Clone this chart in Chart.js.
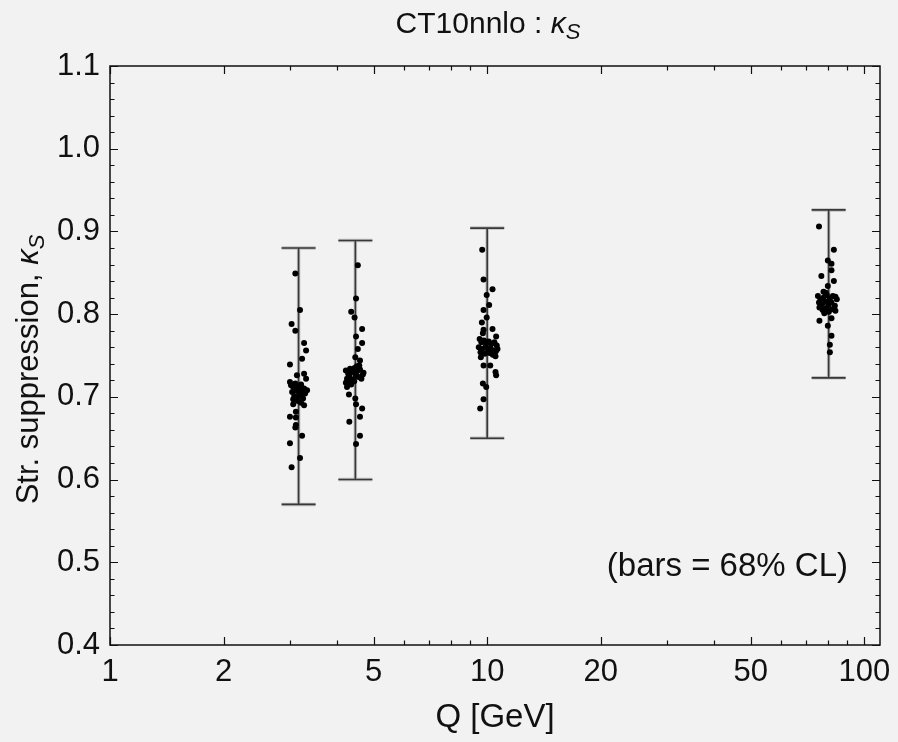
<!DOCTYPE html>
<html><head><meta charset="utf-8">
<script src="https://cdn.jsdelivr.net/npm/chart.js@4/dist/chart.umd.min.js"></script>
<style>html,body{margin:0;padding:0;background:#f2f2f2;}#wrap{width:898px;height:742px;}</style>
</head><body><div id="wrap"><canvas id="c" width="898" height="742"></canvas></div>
<script>
// ---- data ----
const xMajorTicks = [1, 2, 5, 10, 20, 50, 100];
const xMinorTicks = [3, 4, 6, 7, 8, 9, 30, 40, 60, 70, 80, 90];
const yMajorTicks = [0.4, 0.5, 0.6, 0.7, 0.8, 0.9, 1.0, 1.1];
const yMinorTicks = [0.42,0.44,0.46,0.48,0.52,0.54,0.56,0.58,0.62,0.64,0.66,0.68,0.72,0.74,0.76,0.78,0.82,0.84,0.86,0.88,0.92,0.94,0.96,0.98,1.02,1.04,1.06,1.08];

const barQ    = [3.162, 4.472, 10.0, 80.4];
const barLow  = [0.570, 0.600, 0.650, 0.723];
const barHigh = [0.880, 0.889, 0.904, 0.926];

const q1 = [3.10,3.19,3.03,3.10,3.27,3.31,3.23,3.00,3.27,3.13,3.31,3.00,
            3.02,3.06,3.10,3.15,3.21,3.27,3.04,3.11,3.17,3.23,3.29,3.08,3.13,3.19,3.25,3.15,3.21,3.06,3.33,3.17,
            3.06,3.27,3.11,3.00,3.11,3.11,3.10,3.23,3.00,3.19,3.03];
const k1 = [0.849,0.805,0.788,0.780,0.765,0.756,0.746,0.739,0.728,0.726,0.722,0.718,
            0.714,0.712,0.716,0.713,0.715,0.710,0.706,0.708,0.705,0.707,0.704,0.701,0.699,0.702,0.698,0.695,0.693,0.697,0.708,0.710,
            0.691,0.690,0.682,0.676,0.675,0.666,0.663,0.653,0.644,0.626,0.615];

const q2 = [4.54,4.49,4.36,4.45,4.66,4.49,4.66,4.54,4.47,4.60,4.51,
            4.22,4.28,4.33,4.38,4.45,4.52,4.60,4.68,4.25,4.31,4.40,4.48,4.56,4.64,4.22,4.30,4.36,4.44,4.70,4.58,
            4.25,4.30,4.47,4.49,4.66,4.60,4.31,4.60,4.49];
const k2 = [0.859,0.819,0.803,0.796,0.782,0.773,0.765,0.758,0.748,0.744,0.737,
            0.732,0.728,0.734,0.730,0.735,0.731,0.733,0.727,0.722,0.725,0.721,0.726,0.724,0.722,0.717,0.718,0.715,0.719,0.729,0.738,
            0.712,0.703,0.698,0.691,0.686,0.676,0.670,0.653,0.643];

const q3 = [9.70,9.78,10.33,9.97,10.12,9.78,9.97,9.68,9.78,10.33,9.74,
            10.56,9.55,9.65,9.80,9.95,10.10,10.25,10.45,10.60,9.50,9.70,9.90,10.05,10.20,10.40,10.65,9.60,9.85,10.15,10.35,10.55,9.62,10.52,
            9.78,10.19,10.52,10.56,9.74,9.94,9.78,9.58];
const k3 = [0.878,0.842,0.830,0.823,0.811,0.805,0.796,0.790,0.781,0.782,0.777,
            0.773,0.770,0.766,0.768,0.765,0.767,0.764,0.766,0.762,0.760,0.758,0.761,0.757,0.759,0.756,0.758,0.754,0.752,0.753,0.751,0.755,0.748,0.749,
            0.738,0.738,0.730,0.726,0.716,0.712,0.697,0.686];

const q4 = [75.8,83.0,80.0,81.8,81.8,76.9,83.0,80.0,77.9,83.8,
            75.3,76.5,78.0,79.5,81.0,82.5,84.5,75.8,77.2,78.8,80.3,81.8,83.5,76.0,77.5,79.0,80.5,82.0,83.8,78.3,80.8,79.0,
            76.0,80.0,81.8,81.8,81.0,81.0];
const k4 = [0.906,0.878,0.865,0.861,0.853,0.846,0.840,0.834,0.827,0.821,
            0.822,0.818,0.820,0.823,0.819,0.822,0.818,0.814,0.812,0.815,0.811,0.814,0.810,0.808,0.805,0.807,0.803,0.806,0.804,0.801,0.816,0.826,
            0.792,0.786,0.795,0.774,0.763,0.754];

const titleMain = 'CT10nnlo : ';
const yTitleMain = 'Str. suppression, ';
const kappa = 'κ', subS = 'S';
const xTitle = 'Q [GeV]';
const noteText = '(bars = 68% CL)';

const FONT = '"Liberation Sans", Arial, Helvetica, sans-serif';

function pts(qs, ks){ return qs.map((q,i)=>({x:q, y:ks[i]})); }

function drawKappaText(ctx, x, y, main, size){
  ctx.font = size + 'px ' + FONT;
  ctx.fillText(main, x, y);
  let w = ctx.measureText(main).width;
  ctx.font = 'italic ' + size + 'px ' + FONT;
  ctx.fillText(kappa, x + w, y);
  w += ctx.measureText(kappa).width;
  ctx.font = 'italic ' + Math.round(size*0.72) + 'px ' + FONT;
  ctx.fillText(subS, x + w, y + size*0.2);
}
function kappaTextWidth(ctx, main, size){
  ctx.font = size + 'px ' + FONT;
  let w = ctx.measureText(main).width;
  ctx.font = 'italic ' + size + 'px ' + FONT;
  w += ctx.measureText(kappa).width;
  ctx.font = 'italic ' + Math.round(size*0.72) + 'px ' + FONT;
  w += ctx.measureText(subS).width;
  return w;
}

const decor = {
  id: 'decor',
  beforeDraw(chart){
    const ctx = chart.ctx;
    ctx.save(); ctx.fillStyle = '#f2f2f2'; ctx.fillRect(0,0,chart.width,chart.height); ctx.restore();
  },
  beforeDatasetsDraw(chart){
    const ctx = chart.ctx, xs = chart.scales.x, ys = chart.scales.y;
    ctx.save();
    ctx.lineCap = 'butt';
    for (let i=0;i<barQ.length;i++){
      const px = xs.getPixelForValue(barQ[i]);
      const pl = ys.getPixelForValue(barLow[i]);
      const ph = ys.getPixelForValue(barHigh[i]);
      for (const [col,lw] of [['#c0c0c0',3.5],['#383838',1.6]]){
        ctx.strokeStyle = col; ctx.lineWidth = lw;
        ctx.beginPath();
        ctx.moveTo(px, ph); ctx.lineTo(px, pl);
        ctx.moveTo(px-17, ph); ctx.lineTo(px+17, ph);
        ctx.moveTo(px-17, pl); ctx.lineTo(px+17, pl);
        ctx.stroke();
      }
    }
    ctx.restore();
  },
  afterDraw(chart){
    const ctx = chart.ctx, xs = chart.scales.x, ys = chart.scales.y, a = chart.chartArea;
    ctx.save();
    ctx.strokeStyle = '#111'; ctx.lineWidth = 1.5;
    ctx.strokeRect(a.left, a.top, a.right-a.left, a.bottom-a.top);
    ctx.lineWidth = 1.2;
    ctx.beginPath();
    const xt = (vals, len) => vals.forEach(v=>{
      const p = Math.round(xs.getPixelForValue(v))+0.5;
      ctx.moveTo(p, a.bottom); ctx.lineTo(p, a.bottom-len);
      ctx.moveTo(p, a.top); ctx.lineTo(p, a.top+len);
    });
    const yt = (vals, len) => vals.forEach(v=>{
      const p = Math.round(ys.getPixelForValue(v))+0.5;
      ctx.moveTo(a.left, p); ctx.lineTo(a.left+len, p);
      ctx.moveTo(a.right, p); ctx.lineTo(a.right-len, p);
    });
    xt(xMajorTicks, 8); xt(xMinorTicks, 4.5);
    yt(yMajorTicks, 8); yt(yMinorTicks, 4.5);
    ctx.stroke();

    ctx.fillStyle = '#111';
    ctx.textBaseline = 'alphabetic'; ctx.textAlign = 'left';
    // title
    const tsz = 30;
    const tw = kappaTextWidth(ctx, titleMain, tsz);
    drawKappaText(ctx, 488 - tw/2, 33, titleMain, tsz);
    // y title
    const ysz = 31;
    const yw = kappaTextWidth(ctx, yTitleMain, ysz);
    ctx.save();
    ctx.translate(38, (a.top+a.bottom)/2 + 14);
    ctx.rotate(-Math.PI/2);
    drawKappaText(ctx, -yw/2, 0, yTitleMain, ysz);
    ctx.restore();
    // note
    ctx.font = '33px ' + FONT;
    ctx.textAlign = 'right'; ctx.textBaseline = 'middle';
    ctx.fillText(noteText, 848, ys.getPixelForValue(0.5) + 5);
    ctx.restore();
  }
};

new Chart(document.getElementById('c'), {
  type: 'scatter',
  data: { datasets: [
    {data: pts(q1,k1)}, {data: pts(q2,k2)}, {data: pts(q3,k3)}, {data: pts(q4,k4)}
  ].map(d=>Object.assign(d,{pointRadius:3, pointHoverRadius:3, backgroundColor:'#000', borderWidth:0})) },
  options: {
    responsive: false, devicePixelRatio: 1, animation: false,
    layout: { padding: {top: 66, right: 18, bottom: 0, left: 0}, autoPadding: false },
    plugins: { legend: {display:false}, tooltip: {enabled:false}, title: {display:false} },
    scales: {
      x: {
        type: 'logarithmic', min: 1, max: 110,
        grid: {display:false, drawTicks:false}, border: {display:false},
        afterBuildTicks: s => { s.ticks = xMajorTicks.map(v=>({value:v, major:false})); },
        afterFit: s => { s.height = 97; s.paddingLeft = 0; s.paddingRight = 0; },
        ticks: { autoSkip:false, maxRotation:0, padding: 9, color:'#111',
                 font: {family: FONT, size: 31}, callback: v => String(v) },
        title: { display:true, text: xTitle, color:'#111', font:{family: FONT, size: 33}, padding: {top:0, bottom:4} }
      },
      y: {
        type: 'linear', min: 0.4, max: 1.1,
        grid: {display:false, drawTicks:false}, border: {display:false},
        afterBuildTicks: s => { s.ticks = yMajorTicks.map(v=>({value:v})); },
        afterFit: s => { s.width = 110; s.paddingTop = 0; s.paddingBottom = 0; },
        ticks: { autoSkip:false, padding: 10, color:'#111',
                 font: {family: FONT, size: 31}, callback: v => v.toFixed(1) }
      }
    }
  },
  plugins: [decor]
});
</script></body></html>
